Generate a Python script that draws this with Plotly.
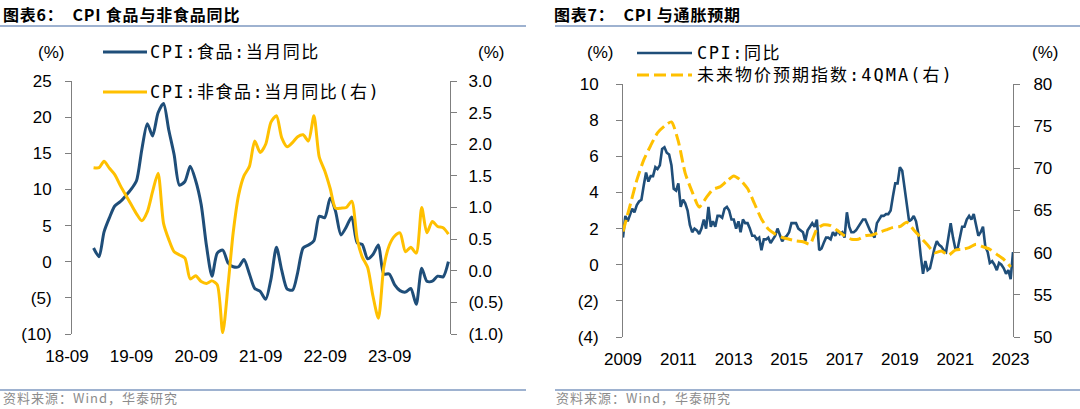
import plotly.graph_objects as go
import pandas as pd

# ---------------- Data: left panel (图表6) ----------------
food_dates = pd.date_range("2019-01-01", periods=67, freq="MS")
food_cpi = [1.9, 0.7, 4.1, 6.1, 7.7, 8.3, 9.1, 10.0, 11.2, 15.5, 19.1, 17.4,
            20.6, 21.9, 18.3, 14.8, 10.6, 11.1, 13.2, 11.2, 7.9, 2.2, -2.0, 1.2,
            1.6, -0.2, -0.7, -0.7, 0.3, -1.7, -3.7, -4.1, -5.2, -2.4, 2.0, -1.2,
            -3.8, -3.9, -1.5, 1.9, 2.3, 2.9, 6.3, 6.1, 8.8, 7.0, 3.7, 4.8,
            6.2, 2.6, 2.4, 0.4, 1.0, 2.3, -1.7, -1.7, -3.2, -4.0, -4.2, -3.7,
            -5.9, -0.9, -2.7, -2.7, -2.0, -2.1, 0.0]
nonfood_cpi = [1.63, 1.63, 1.73, 1.62, 1.52, 1.35, 1.2, 1.05, 0.9, 0.79, 0.93, 1.25,
               1.54, 0.75, 0.5, 0.3, 0.25, 0.2, -0.13, -0.08, -0.17, -0.2, -0.16, -0.22,
               -0.98, -0.2, 0.6, 1.2, 1.5, 1.65, 2.05, 1.87, 2.0, 2.35, 2.45, 2.1,
               1.96, 2.03, 2.12, 2.15, 2.05, 2.45, 1.8, 1.58, 1.3, 0.99, 0.99, 1.0,
               1.1, 0.5, 0.22, 0.05, -0.4, -0.75, 0.05, 0.4, 0.55, 0.6, 0.3, 0.37,
               0.28, 1.0, 0.6, 0.78, 0.7, 0.68, 0.58]
left_ticks = pd.date_range("2018-09-01", periods=6, freq="12MS")
left_y_vals = [-10, -5, 0, 5, 10, 15, 20, 25]
left_y_text = ["(10)", "(5)", "0", "5", "10", "15", "20", "25"]
left_y2_vals = [-1.0, -0.5, 0.0, 0.5, 1.0, 1.5, 2.0, 2.5, 3.0]
left_y2_text = ["(1.0)", "(0.5)", "0.0", "0.5", "1.0", "1.5", "2.0", "2.5", "3.0"]

# ---------------- Data: right panel (图表7) ----------------
cpi_dates = pd.date_range("2009-12-01", periods=170, freq="MS")
cpi_yoy = [1.5, 2.7, 2.4, 2.8, 3.1, 2.9, 3.3, 3.5, 3.6, 4.4, 5.1, 4.6,
           4.9, 4.9, 5.4, 5.3, 5.5, 6.4, 6.5, 6.2, 6.1, 5.5, 4.2, 4.1,
           4.5, 3.2, 3.6, 3.4, 3.0, 2.2, 1.8, 2.0, 1.9, 1.7, 2.0, 2.5,
           2.0, 3.2, 2.1, 2.4, 2.1, 2.7, 2.7, 2.6, 3.1, 3.2, 3.0, 2.5,
           2.5, 2.0, 2.4, 1.8, 2.5, 2.3, 2.3, 2.0, 1.6, 1.6, 1.4, 1.5,
           0.8, 1.4, 1.4, 1.5, 1.2, 1.4, 1.6, 2.0, 1.6, 1.3, 1.5, 1.6,
           1.8, 2.3, 2.3, 2.3, 2.0, 1.9, 1.8, 1.3, 1.9, 2.1, 2.3, 2.1,
           2.5, 0.8, 0.9, 1.2, 1.5, 1.5, 1.4, 1.8, 1.6, 1.9, 1.7, 1.8,
           1.5, 2.9, 2.1, 1.8, 1.8, 1.9, 2.1, 2.3, 2.5, 2.5, 2.2, 1.9,
           1.7, 1.5, 2.3, 2.5, 2.7, 2.7, 2.8, 2.8, 3.0, 3.8, 4.5, 4.5,
           5.4, 5.2, 4.3, 3.3, 2.4, 2.5, 2.7, 2.4, 1.7, 0.5, -0.5, 0.2,
           -0.3, -0.2, 0.4, 0.9, 1.3, 1.1, 1.0, 0.8, 0.7, 1.5, 2.3, 1.5,
           0.9, 0.9, 1.5, 2.1, 2.1, 2.5, 2.7, 2.5, 2.8, 2.1, 1.6, 1.8,
           2.1, 1.0, 0.7, 0.1, 0.2, 0.0, -0.3, 0.1, 0.0, -0.2, -0.5, -0.3,
           -0.8, 0.7]
exp_dates = pd.date_range("2009-12-01", periods=57, freq="3MS")
exp_4qma = [62.5, 65.5, 68.6, 71.0, 72.7, 74.2, 75.0, 75.5, 73.2, 69.4,
            67.2, 65.4, 66.5, 67.5, 67.8, 68.5, 69.1, 68.6, 67.6, 65.8,
            64.0, 62.8, 62.2, 61.8, 61.6, 61.4, 61.3, 61.0, 62.8, 63.3,
            63.2, 62.6, 62.0, 61.6, 61.6, 62.0, 62.1, 62.4, 62.7, 63.0,
            63.1, 63.6, 62.7, 61.8, 60.9, 60.0, 60.2, 59.7, 60.3, 60.4,
            60.6, 61.0, 60.7, 60.4, 59.8, 59.2, 58.3]
right_ticks = pd.date_range("2009-12-01", periods=8, freq="24MS")
right_y_vals = [-4, -2, 0, 2, 4, 6, 8, 10]
right_y_text = ["(4)", "(2)", "0", "2", "4", "6", "8", "10"]
right_y2_vals = [50, 55, 60, 65, 70, 75, 80]

# ---------------- Style ----------------
W, H = 1080, 409
BLUE = "#1F4E79"
GOLD = "#FFC000"
AXIS_GRAY = "#7F7F7F"
SEP = "#7E98C0"
TICK_FONT = dict(family="Liberation Sans, Arial, sans-serif", size=17, color="#000000")
LEG_FONT = dict(family="DejaVu Sans Mono, Noto Sans CJK SC, monospace", size=17, color="#000000")


def px(x):
    return x / W


def py(y):
    return 1 - y / H


# panel geometry (pixels)
L_X0, L_X1, L_YT, L_YB = 72, 450, 81, 334
R_X0, R_X1, R_YT, R_YB = 623, 1013, 84, 337

l_dom_y = [py(L_YB), py(L_YT)]
r_dom_y = [py(R_YB), py(R_YT)]
l_zero = l_dom_y[0] + (0 - (-10)) / 35 * (l_dom_y[1] - l_dom_y[0])
r_zero = r_dom_y[0] + (0 - (-4)) / 14 * (r_dom_y[1] - r_dom_y[0])

l_range = ["2018-09-01", "2024-07-10"]
r_range = ["2009-12-01", "2024-01-01"]

fig = go.Figure()

fig.add_trace(go.Scatter(x=food_dates, y=food_cpi, xaxis="x", yaxis="y", mode="lines",
                         line=dict(color=BLUE, width=3, shape="spline", smoothing=0.7),
                         showlegend=False))
fig.add_trace(go.Scatter(x=food_dates, y=nonfood_cpi, xaxis="x", yaxis="y2", mode="lines",
                         line=dict(color=GOLD, width=3, shape="spline", smoothing=0.7),
                         showlegend=False))
fig.add_trace(go.Scatter(x=cpi_dates, y=cpi_yoy, xaxis="x2", yaxis="y3", mode="lines",
                         line=dict(color=BLUE, width=2.6),
                         showlegend=False))
fig.add_trace(go.Scatter(x=exp_dates, y=exp_4qma, xaxis="x2", yaxis="y4", mode="lines",
                         line=dict(color=GOLD, width=3, dash="12px,5px", shape="spline", smoothing=0.6),
                         showlegend=False))

common_x = dict(type="date", showgrid=False, zeroline=False, fixedrange=True, automargin=False)

fig.update_layout(
    template="none",
    width=W, height=H,
    margin=dict(l=0, r=0, t=0, b=0, pad=0, autoexpand=False),
    paper_bgcolor="white", plot_bgcolor="rgba(0,0,0,0)",
    showlegend=False,
    # left panel x axis labels (bottom)
    xaxis=dict(**common_x, domain=[px(L_X0), px(L_X1)], anchor="y", range=l_range,
               tickvals=left_ticks, tickformat="%y-%m", ticks="", showline=False,
               tickfont=TICK_FONT, ticklabelstandoff=10, ticklabelshift=-5),
    # left panel zero axis line with ticks
    xaxis3=dict(**common_x, domain=[px(L_X0), px(L_X1)], anchor="free", position=l_zero,
                overlaying="x", range=l_range, tickvals=left_ticks, showticklabels=False,
                ticks="outside", ticklen=5, tickcolor="#000000", showline=True,
                linecolor="#000000", linewidth=1, layer="below traces"),
    yaxis=dict(domain=l_dom_y, anchor="x", range=[-10, 25], tickvals=left_y_vals,
               ticktext=left_y_text, showgrid=False, zeroline=False, showline=True,
               linecolor=AXIS_GRAY, linewidth=1, ticks="outside", ticklen=6,
               tickcolor=AXIS_GRAY, tickfont=TICK_FONT, ticklabelstandoff=10,
               fixedrange=True, automargin=False),
    yaxis2=dict(overlaying="y", anchor="x", side="right", range=[-1, 3],
                tickvals=left_y2_vals, ticktext=left_y2_text, showgrid=False,
                zeroline=False, showline=True, linecolor=AXIS_GRAY, linewidth=1,
                ticks="outside", ticklen=6, tickcolor=AXIS_GRAY, tickfont=TICK_FONT,
                ticklabelstandoff=8, fixedrange=True, automargin=False),
    # right panel
    xaxis2=dict(**common_x, domain=[px(R_X0), px(R_X1)], anchor="y3", range=r_range,
                tickvals=right_ticks, tickformat="%Y", ticks="", showline=False,
                tickfont=TICK_FONT, ticklabelstandoff=10),
    xaxis4=dict(**common_x, domain=[px(R_X0), px(R_X1)], anchor="free", position=r_zero,
                overlaying="x2", range=r_range, tickvals=right_ticks, showticklabels=False,
                ticks="outside", ticklen=5, tickcolor="#000000", showline=True,
                linecolor="#000000", linewidth=1, layer="below traces"),
    yaxis3=dict(domain=r_dom_y, anchor="x2", range=[-4, 10], tickvals=right_y_vals,
                ticktext=right_y_text, showgrid=False, zeroline=False, showline=True,
                linecolor=AXIS_GRAY, linewidth=1, ticks="outside", ticklen=6,
                tickcolor=AXIS_GRAY, tickfont=TICK_FONT, ticklabelstandoff=14,
                fixedrange=True, automargin=False),
    yaxis4=dict(overlaying="y3", anchor="x2", side="right", range=[50, 80],
                tickvals=right_y2_vals, showgrid=False, zeroline=False, showline=True,
                linecolor=AXIS_GRAY, linewidth=1, ticks="outside", ticklen=6,
                tickcolor=AXIS_GRAY, tickfont=TICK_FONT, ticklabelstandoff=10,
                fixedrange=True, automargin=False),
)

shapes = []
annotations = []


def hline(x0, x1, y, color, width=1.5, dash=None):
    shapes.append(dict(type="line", xref="paper", yref="paper", x0=px(x0), x1=px(x1),
                       y0=py(y), y1=py(y), line=dict(color=color, width=width, dash=dash)))


def text(x, y, s, font, xanchor="left", yanchor="middle"):
    annotations.append(dict(x=px(x), y=py(y), xref="paper", yref="paper", text=s,
                            showarrow=False, xanchor=xanchor, yanchor=yanchor, font=font,
                            borderpad=0))


TITLE_FONT = dict(family="Noto Sans CJK SC, sans-serif", size=16, color="#000000")
SRC_FONT = dict(family="Noto Sans CJK SC, sans-serif", size=13, color="#8C8C8C")

# titles and separators
TS = '<b><span style="letter-spacing:0.8px">{}</span></b>'
text(2, 14, TS.format("图表6：  CPI 食品与非食品同比"), TITLE_FONT)
text(553, 14, TS.format("图表7：  CPI 与通胀预期"), TITLE_FONT)
hline(0, 526, 26, SEP)
hline(555, 1080, 26, SEP)
hline(0, 526, 390, SEP)
hline(555, 1080, 390, SEP)
SS = '<span style="letter-spacing:1px">{}</span>'
text(2, 408, SS.format("资料来源：Wind，华泰研究"), SRC_FONT, yanchor="bottom")
text(555, 408, SS.format("资料来源：Wind，华泰研究"), SRC_FONT, yanchor="bottom")

# unit labels
text(51, 53, "(%)", TICK_FONT, "center")
text(491, 53, "(%)", TICK_FONT, "center")
text(600, 53, "(%)", TICK_FONT, "center")
text(1045, 53, "(%)", TICK_FONT, "center")

# legends
LS = '<span style="letter-spacing:1.5px">{}</span>'
hline(103, 147, 52, BLUE, 3)
text(149, 52, LS.format("CPI:食品:当月同比"), LEG_FONT)
hline(103, 147, 92, GOLD, 3)
text(149, 92, LS.format("CPI:非食品:当月同比(右)"), LEG_FONT)
hline(637, 692, 53, BLUE, 2.6)
text(696, 53, LS.format("CPI:同比"), LEG_FONT)
hline(637, 692, 75, GOLD, 3, "12px,5px")
text(696, 75, '<span style="letter-spacing:2px">{}</span>'.format("未来物价预期指数:4QMA(右)"), LEG_FONT)

fig.update_layout(shapes=shapes, annotations=annotations)

fig.write_html("out.html", config={"displayModeBar": False},
               post_script="document.body.style.margin='0px';document.body.style.padding='0px';")
